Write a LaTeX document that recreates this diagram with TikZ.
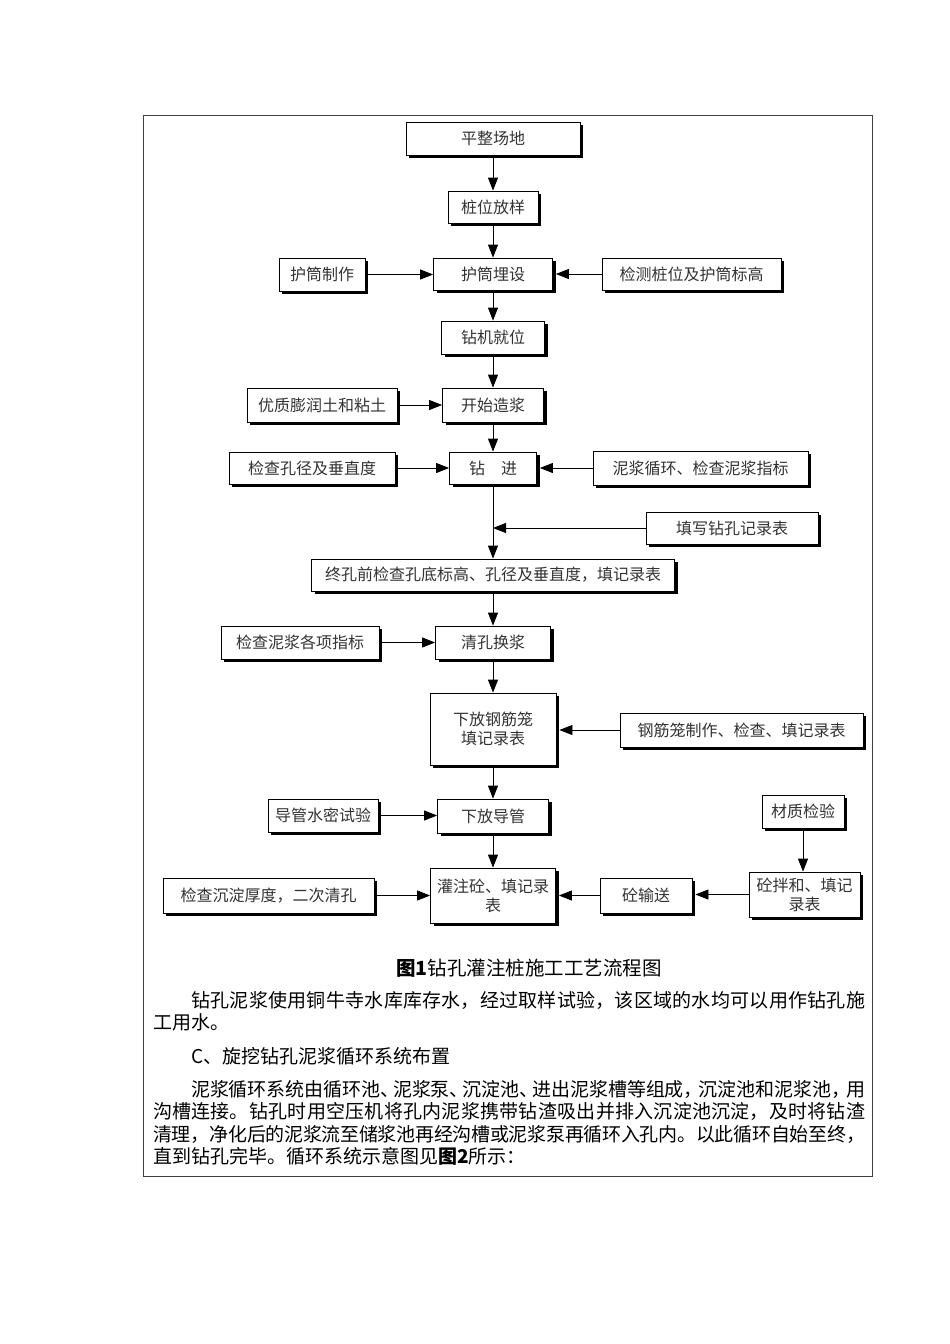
\documentclass[tikz,border=0pt]{standalone}
\usepackage{fontspec}
\setmainfont{Noto Sans CJK SC}
\usetikzlibrary{arrows.meta,shadows,calc}
\XeTeXlinebreaklocale "zh"
\XeTeXlinebreakskip=0pt plus 2pt minus 1.3pt
\begin{document}
\begin{tikzpicture}[x=1pt,y=-1pt,
  fbox/.style={draw=black, line width=0.8pt, fill=white, text=black!80,
    font=\fontsize{16}{19}\selectfont, inner sep=1pt, align=center,
    drop shadow={shadow xshift=3pt, shadow yshift=-3pt, fill=black, opacity=1}},
  arr/.style={-{Triangle[length=13pt,width=10pt]}, line width=0.8pt},
  para/.style={inner sep=0pt, text width=712pt, align=justify, anchor=base west,
    font=\fontsize{19}{22.5}\selectfont}]
\useasboundingbox (0,0) rectangle (950,1344);
\fill[white] (0,0) rectangle (950,1344);
\draw[black!75, line width=1pt] (143,115) rectangle (872,1176);

% main column
\node[fbox, minimum width=174pt, minimum height=33pt] (n1) at (493,138.5) {平整场地};
\node[fbox, minimum width=90pt, minimum height=32pt] (n2) at (493,207) {桩位放样};
\node[fbox, minimum width=119pt, minimum height=32pt] (n3) at (493,274) {护筒埋设};
\node[fbox, minimum width=86pt, minimum height=33pt] (s3a) at (322,274.5) {护筒制作};
\node[fbox, minimum width=179pt, minimum height=32pt] (s3b) at (691.5,274) {检测桩位及护筒标高};
\node[fbox, minimum width=103pt, minimum height=33pt] (n4) at (493,337.5) {钻机就位};
\node[fbox, minimum width=101pt, minimum height=34pt] (n5) at (493,405) {开始造浆};
\node[fbox, minimum width=150pt, minimum height=34pt] (s5a) at (322,405) {优质膨润土和粘土};
\node[fbox, minimum width=87pt, minimum height=32pt] (n6) at (493,468) {钻\hspace{1em}进};
\node[fbox, minimum width=166pt, minimum height=32pt] (s6a) at (312,468) {检查孔径及垂直度};
\node[fbox, minimum width=215pt, minimum height=34pt] (s6b) at (700.5,468) {泥浆循环、检查泥浆指标};
\node[fbox, minimum width=172pt, minimum height=32pt] (s7) at (732,528) {填写钻孔记录表};
\coordinate (j) at (493,528);
\node[fbox, minimum width=363pt, minimum height=32pt] (n8) at (493,575) {终孔前检查孔底标高、孔径及垂直度，填记录表};
\node[fbox, minimum width=115pt, minimum height=33pt] (n9) at (493,642.5) {清孔换浆};
\node[fbox, minimum width=158pt, minimum height=33pt] (s9a) at (300,642.5) {检查泥浆各项指标};
\node[fbox, minimum width=126pt, minimum height=72pt] (n10) at (493,729) {下放钢筋笼\\填记录表};
\node[fbox, minimum width=243pt, minimum height=34pt] (s10b) at (741.5,730) {钢筋笼制作、检查、填记录表};
\node[fbox, minimum width=111pt, minimum height=34pt] (n11) at (493,816) {下放导管};
\node[fbox, minimum width=110pt, minimum height=33pt] (s11a) at (323,815.5) {导管水密试验};
\node[fbox, minimum width=82pt, minimum height=33pt] (s12t) at (803,811.5) {材质检验};
\node[fbox, minimum width=125pt, minimum height=55pt] (n12) at (493,895.5) {灌注砼、填记录\\表};
\node[fbox, minimum width=211pt, minimum height=35pt] (s12a) at (268.5,895.5) {检查沉淀厚度，二次清孔};
\node[fbox, minimum width=92pt, minimum height=35pt] (s12b) at (646,895.5) {砼输送};
\node[fbox, minimum width=111pt, minimum height=45pt] (s12c) at (804.5,894.5) {砼拌和、填记\\录表};

% connectors
\draw[arr] (n1) -- (n2);
\draw[arr] (n2) -- (n3);
\draw[arr] (n3) -- (n4);
\draw[arr] (n4) -- (n5);
\draw[arr] (n5) -- (n6);
\draw[arr] (n6) -- (n8);
\draw[arr] (s7.west) -- (j);
\draw[arr] (n8) -- (n9);
\draw[arr] (n9) -- (n10);
\draw[arr] (n10) -- (n11);
\draw[arr] (n11) -- (n12);
\draw[arr] (s3a.east) -- (s3a.east -| n3.west);
\draw[arr, shorten >=3pt] (s3b.west) -- (s3b.west -| n3.east);
\draw[arr] (s5a.east) -- (s5a.east -| n5.west);
\draw[arr] (s6a.east) -- (s6a.east -| n6.west);
\draw[arr, shorten >=3pt] (s6b.west) -- (s6b.west -| n6.east);
\draw[arr] (s9a.east) -- (s9a.east -| n9.west);
\draw[arr, shorten >=3pt] (s10b.west) -- (s10b.west -| n10.east);
\draw[arr] (s11a.east) -- (s11a.east -| n11.west);
\draw[arr] (s12a.east) -- (s12a.east -| n12.west);
\draw[arr, shorten >=3pt] (s12b.west) -- (s12b.west -| n12.east);
\draw[arr, shorten >=3pt] (s12c.west) -- (s12c.west -| s12b.east);
\draw[arr] (s12t.south) -- (s12t.south |- s12c.north);

% caption and text
\node[inner sep=0pt, anchor=base, font=\fontsize{19.5}{22}\selectfont] (cap) at (529,975) {\textbf{图1}钻孔灌注桩施工工艺流程图};
\node[para] (p1) at (153,1007) {\hspace*{38pt}钻孔泥浆使用铜牛寺水库库存水，经过取样试验，该区域的水均可以用作钻孔施\linebreak 工用水。};
\node[para] (p2) at (153,1063) {\hspace*{38pt}C、旋挖钻孔泥浆循环系统布置};
\node[para] (p3) at (153,1096) {\hspace*{38pt}泥浆循环系统由循环池、\kern-6pt 泥浆泵、\kern-6pt 沉淀池、\kern-6pt 进出泥浆槽等组成，\kern-4pt 沉淀池和泥浆池，\kern-4pt 用\linebreak 沟槽连接。钻孔时用空压机将孔内泥浆携带钻渣吸出并排入沉淀池沉淀，及时将钻渣\linebreak 清理，净化后的泥浆流至储浆池再经沟槽或泥浆泵再循环入孔内。以此循环自始至终，\linebreak 直到钻孔完毕。循环系统示意图见\textbf{图2}所示：};
\end{tikzpicture}
\end{document}
